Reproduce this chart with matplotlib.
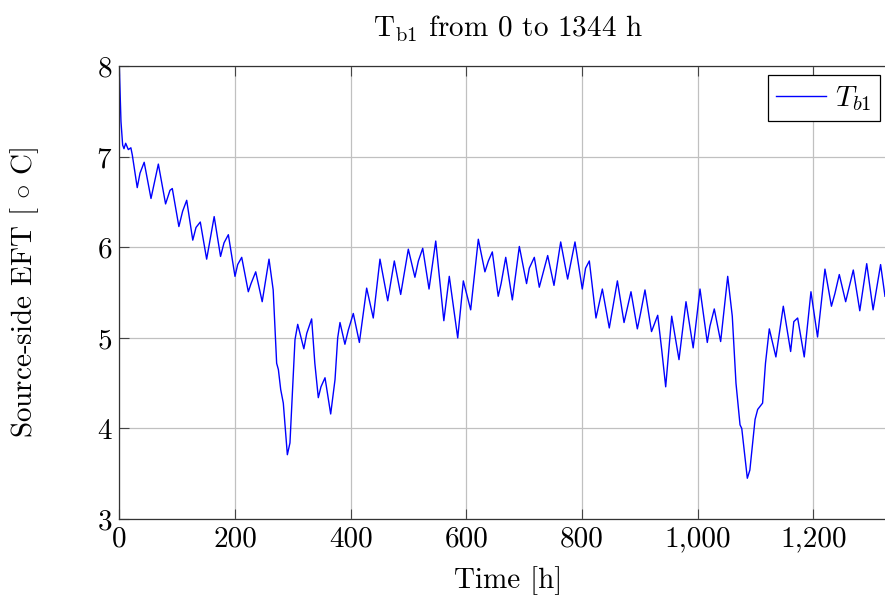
import matplotlib
matplotlib.use("Agg")
import matplotlib.pyplot as plt
from matplotlib.ticker import FuncFormatter

plt.rcParams['font.family'] = 'serif'
plt.rcParams['font.serif'] = ['cmr10']
plt.rcParams['mathtext.fontset'] = 'cm'
plt.rcParams['axes.formatter.use_mathtext'] = True

time_h = [0, 2.9, 5.8, 8.1, 11, 15.6, 20, 22.5, 31, 35.8, 43, 54.8, 67.5, 80, 87.6, 91.6,
          103, 109.5, 116.5, 127, 132.6, 140, 151, 164, 175, 181, 188.5, 200, 204.6, 211.6,
          223, 227.7, 235.8, 247, 258.8, 266, 272, 275, 279, 283.5, 290.5, 295, 303.7, 308.4,
          319, 324, 332.5, 338, 344, 348.6, 355.6, 365.4, 372.9, 377.5, 381.5, 390, 396, 404.5,
          415, 427.6, 439, 450.6, 464, 475.4, 486.4, 499.6, 511, 517, 524.5, 535.4, 547, 561,
          570.4, 585, 594.7, 607.4, 620.6, 632, 638, 644.8, 655, 660, 668, 679.4, 691.5, 704,
          708.7, 717.4, 726, 740.5, 751.4, 763, 775, 787.7, 800.3, 806, 812.5, 824, 835, 847,
          853, 861, 872.5, 884.5, 895.5, 901, 908.7, 920, 930.7, 937.6, 944.5, 954.9, 967.5,
          979.6, 992, 1003.8, 1016.4, 1021, 1028.5, 1039.5, 1051.7, 1059.6, 1066, 1073, 1076,
          1085.6, 1090, 1099, 1103.5, 1112, 1117, 1123.6, 1135, 1140, 1147.8, 1160.5, 1166,
          1172.6, 1184, 1195.6, 1207, 1219.8, 1231, 1237, 1244.6, 1255.6, 1268.8, 1280, 1292,
          1303, 1316, 1323.6]
t_b1 = [8.0, 7.39, 7.13, 7.09, 7.15, 7.08, 7.10, 7.02, 6.66, 6.82, 6.94, 6.54, 6.92, 6.48, 6.63, 6.65,
        6.23, 6.40, 6.52, 6.08, 6.22, 6.28, 5.87, 6.34, 5.90, 6.05, 6.14, 5.68, 5.81, 5.89,
        5.51, 5.60, 5.73, 5.40, 5.87, 5.53, 4.72, 4.65, 4.43, 4.28, 3.71, 3.84, 4.98, 5.15,
        4.88, 5.05, 5.21, 4.72, 4.34, 4.46, 4.56, 4.16, 4.54, 5.00, 5.17, 4.93, 5.09, 5.27,
        4.95, 5.55, 5.22, 5.87, 5.41, 5.85, 5.48, 5.98, 5.67, 5.85, 5.99, 5.54, 6.07, 5.19,
        5.68, 5.00, 5.63, 5.31, 6.09, 5.73, 5.85, 5.95, 5.46, 5.60, 5.89, 5.42, 6.01, 5.60,
        5.77, 5.89, 5.56, 5.91, 5.58, 6.06, 5.65, 6.06, 5.54, 5.77, 5.85, 5.22, 5.54, 5.11,
        5.33, 5.63, 5.17, 5.51, 5.10, 5.27, 5.53, 5.07, 5.25, 4.87, 4.46, 5.24, 4.76,
        5.40, 4.89, 5.54, 4.95, 5.13, 5.32, 4.96, 5.68, 5.24, 4.50, 4.04, 4.00,
        3.45, 3.54, 4.10, 4.21, 4.28, 4.72, 5.10, 4.79, 5.01, 5.35, 4.85, 5.18,
        5.22, 4.79, 5.51, 5.01, 5.76, 5.35, 5.49, 5.70, 5.40, 5.75, 5.30, 5.82,
        5.31, 5.81, 5.46]

x_ticks = [0, 200, 400, 600, 800, 1000, 1200]
y_ticks = [3, 4, 5, 6, 7, 8]

W, H = 885, 601
fig = plt.figure(figsize=(W / 100, H / 100), dpi=100)
left, right, top, bottom = 119.3, 896.8, 66.3, 519.0
ax = fig.add_axes([left / W, 1 - bottom / H, (right - left) / W, (bottom - top) / H])

ax.plot(time_h, t_b1, color='#0000ff', lw=1.0, label=r'$T_{b1}$')
ax.set_xlim(0, 1344)
ax.set_ylim(3, 8)
ax.set_xticks(x_ticks)
ax.set_yticks(y_ticks)
ax.xaxis.set_major_formatter(FuncFormatter(lambda v, p: f"{int(v):,}"))
ax.grid(True, color='#c0c0c0', lw=0.9)
ax.set_axisbelow(True)
ax.tick_params(direction='in', length=7, width=0.8, colors='#444444', labelcolor='black',
               labelsize=21, top=True, right=True, pad=5)
for s in ax.spines.values():
    s.set_color('#333333')
    s.set_linewidth(0.9)

ax.set_title(r'$\mathrm{T_{b1}}$ from 0 to 1344 h', fontsize=21, pad=21)
ax.set_xlabel('Time [h]', fontsize=21, labelpad=10)
ax.set_ylabel(r'Source-side EFT [$\,\circ\,$C]', fontsize=21, labelpad=40)

leg = ax.legend(loc='upper right', bbox_to_anchor=(880 / W, 1 - 75 / H),
                bbox_transform=fig.transFigure, fontsize=21, frameon=True, fancybox=False,
                handlelength=1.7, borderaxespad=0, borderpad=0.3, handletextpad=0.3)
leg.get_frame().set_edgecolor('black')
leg.get_frame().set_linewidth(0.9)
leg.get_frame().set_alpha(1)

fig.savefig('out.png', dpi=100)
